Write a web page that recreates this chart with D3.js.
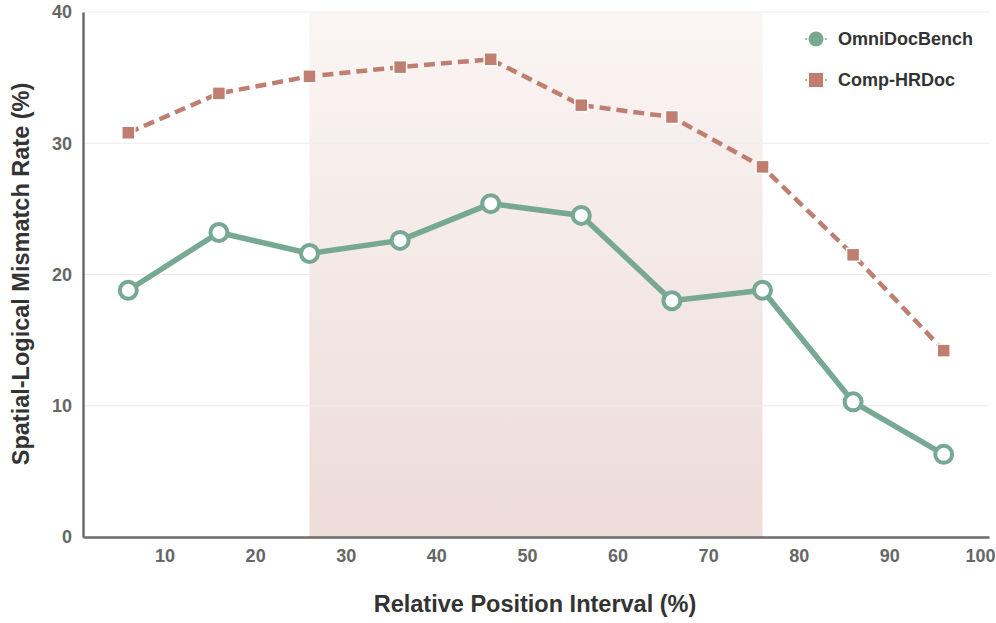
<!DOCTYPE html>
<html lang="en">
<head>
<meta charset="UTF-8">
<title>Spatial-Logical Mismatch Rate</title>
<script src="https://cdn.jsdelivr.net/npm/d3@7"></script>
<style>
    html, body { margin: 0; padding: 0; background: #fff; }
    svg text { font-family: "Liberation Sans", Arial, sans-serif; font-weight: bold; }
    .tick text { fill: #666; font-size: 18px; }
    .grid line { stroke: #ebebeb; stroke-width: 1.2; }
</style>
</head>
<body>
<svg id="chart" width="996" height="623"></svg>
<script>
    var positions = [6, 16, 26, 36, 46, 56, 66, 76, 86, 96];
    var omniDocBench = [18.8, 23.2, 21.6, 22.6, 25.4, 24.5, 18.0, 18.8, 10.3, 6.3];
    var compHRDoc = [30.8, 33.8, 35.1, 35.8, 36.4, 32.9, 32.0, 28.2, 21.5, 14.2];
    var xTicks = [10, 20, 30, 40, 50, 60, 70, 80, 90, 100];
    var yTicks = [0, 10, 20, 30, 40];
    var band = [26, 76];

    var green = "#76a893", red = "#c07e70";

    var svg = d3.select("#chart"),
        margin = { top: 12, right: 7, bottom: 86, left: 83 },
        width = +svg.attr("width") - margin.left - margin.right,
        height = +svg.attr("height") - margin.top - margin.bottom;

    var x = d3.scaleLinear().domain([1, 101]).range([0, width]),
        y = d3.scaleLinear().domain([0, 40]).range([height, 0]);

    var defs = svg.append("defs");
    var grad = defs.append("linearGradient")
        .attr("id", "bandGrad")
        .attr("x1", "0%").attr("y1", "0%")
        .attr("x2", "0%").attr("y2", "100%");
    grad.append("stop").attr("offset", "0%").attr("stop-color", "#faf5f4");
    grad.append("stop").attr("offset", "100%").attr("stop-color", "#eddcd8");

    var g = svg.append("g")
        .attr("transform", "translate(" + margin.left + "," + margin.top + ")");

    // highlighted interval
    g.append("rect")
        .attr("x", x(band[0]))
        .attr("y", 0)
        .attr("width", x(band[1]) - x(band[0]))
        .attr("height", height)
        .attr("fill", "url(#bandGrad)");

    // grid
    g.append("g")
        .attr("class", "grid")
        .selectAll("line")
        .data(yTicks.slice(1))
        .enter().append("line")
        .attr("x1", 0).attr("x2", width)
        .attr("y1", d => y(d)).attr("y2", d => y(d));

    // axes
    var xAxis = g.append("g")
        .attr("transform", "translate(0," + height + ")")
        .call(d3.axisBottom(x).tickValues(xTicks).tickSize(0).tickPadding(12));
    var yAxis = g.append("g")
        .call(d3.axisLeft(y).tickValues(yTicks).tickSize(0).tickPadding(11));

    [xAxis, yAxis].forEach(a => {
        a.select(".domain").attr("stroke", "#6b6b6b").attr("stroke-width", 2.5);
    });
    yAxis.selectAll(".tick text").attr("dy", "0.32em");

    // lines
    var line = d3.line().x(d => x(d[0])).y(d => y(d[1]));

    var redPts = positions.map((p, i) => [p, compHRDoc[i]]);
    var greenPts = positions.map((p, i) => [p, omniDocBench[i]]);

    g.append("path")
        .datum(redPts)
        .attr("d", line)
        .attr("fill", "none")
        .attr("stroke", red)
        .attr("stroke-width", 4.5)
        .attr("stroke-dasharray", "11,6");

    g.selectAll(".sq")
        .data(redPts)
        .enter().append("rect")
        .attr("class", "sq")
        .attr("x", d => x(d[0]) - 6.5)
        .attr("y", d => y(d[1]) - 6.5)
        .attr("width", 13).attr("height", 13)
        .attr("fill", red)
        .attr("stroke", "#fff")
        .attr("stroke-width", 1.5);

    g.append("path")
        .datum(greenPts)
        .attr("d", line)
        .attr("fill", "none")
        .attr("stroke", green)
        .attr("stroke-width", 5.5)
        .attr("stroke-linejoin", "round");

    g.selectAll(".dot")
        .data(greenPts)
        .enter().append("circle")
        .attr("class", "dot")
        .attr("cx", d => x(d[0]))
        .attr("cy", d => y(d[1]))
        .attr("r", 8.5)
        .attr("fill", "#fff")
        .attr("stroke", green)
        .attr("stroke-width", 4);

    // axis titles
    svg.append("text")
        .attr("x", 535)
        .attr("y", 612)
        .attr("text-anchor", "middle")
        .attr("fill", "#333")
        .style("font-size", "23.5px")
        .text("Relative Position Interval (%)");

    svg.append("text")
        .attr("transform", "translate(29,274) rotate(-90)")
        .attr("text-anchor", "middle")
        .attr("fill", "#333")
        .style("font-size", "23.5px")
        .text("Spatial-Logical Mismatch Rate (%)");

    // legend
    var legend = svg.append("g").attr("transform", "translate(805,39)");
    var items = [
        { name: "OmniDocBench", color: green, shape: "circle" },
        { name: "Comp-HRDoc", color: red, shape: "square" }
    ];
    var li = legend.selectAll("g")
        .data(items)
        .enter().append("g")
        .attr("transform", (d, i) => "translate(0," + i * 41 + ")");
    li.append("line")
        .attr("x1", 0).attr("x2", 22)
        .attr("stroke", d => d.color)
        .attr("stroke-width", 2)
        .attr("stroke-dasharray", "2,2")
        .attr("opacity", 0.7);
    li.filter(d => d.shape === "circle").append("circle")
        .attr("cx", 11).attr("r", 7.5)
        .attr("fill", d => d.color);
    li.filter(d => d.shape === "square").append("rect")
        .attr("x", 4).attr("y", -7).attr("width", 14).attr("height", 14)
        .attr("fill", d => d.color);
    li.append("text")
        .attr("x", 33)
        .attr("dy", "0.35em")
        .attr("fill", "#333")
        .style("font-size", "18px")
        .text(d => d.name);
</script>
</body>
</html>
